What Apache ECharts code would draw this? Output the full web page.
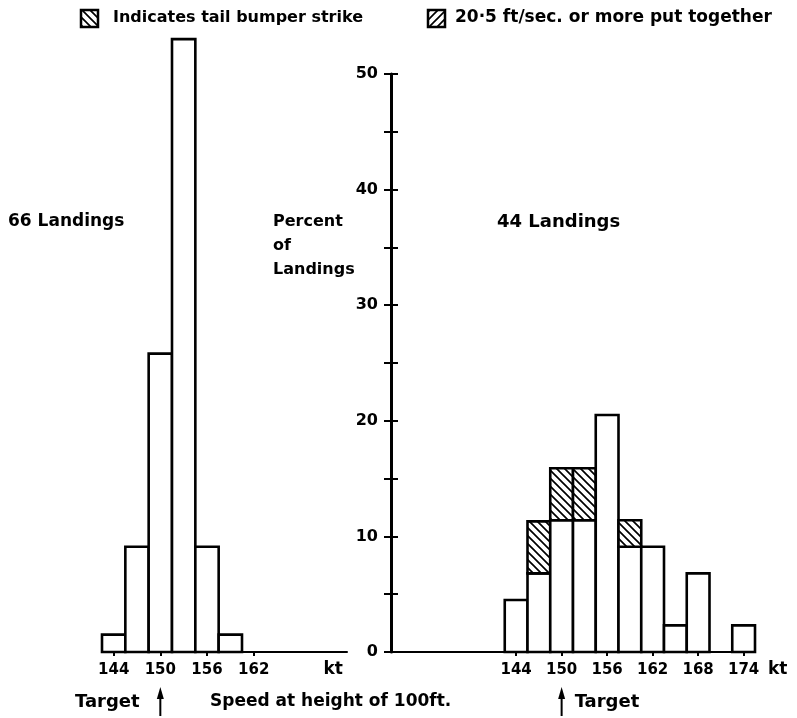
<!DOCTYPE html>
<html>
<head>
<meta charset="utf-8">
<script src="https://cdn.jsdelivr.net/npm/echarts@6/dist/echarts.min.js"></script>
<style>
  html, body { margin: 0; padding: 0; background: #fff; }
  #chart { width: 797px; height: 718px; }
</style>
</head>
<body>
<div id="chart"></div>
<script>
// Landing speed at 100 ft: percent of landings in each 3-kt band.
const binWidth = 3;

// First batch (66 landings)
const leftBins = [144, 147, 150, 153, 156, 159];
const leftPercent = [1.5, 9.1, 25.8, 53.0, 9.1, 1.5];

// Second batch (44 landings); tail-bumper strikes stacked on top
const rightBins = [144, 147, 150, 153, 156, 159, 162, 165, 168, 171, 174];
const rightPlain = [4.5, 6.8, 11.4, 11.4, 20.5, 9.1, 9.1, 2.3, 6.8, 0, 2.3];
const rightTailStrike = [0, 4.5, 4.5, 4.5, 0, 2.3, 0, 0, 0, 0, 0];

// Tick labels
const leftSpeedTicks = [144, 150, 156, 162];
const rightSpeedTicks = [144, 150, 156, 162, 168, 174];
const percentTicks = [0, 10, 20, 30, 40, 50];
const targetSpeed = 150;

const FONT = '"DejaVu Sans", sans-serif';

// Diagonal hatch tiles for the shaded boxes
function hatchCanvas(dir) {
  const s = 8;
  const c = document.createElement('canvas');
  c.width = s; c.height = s;
  const g = c.getContext('2d');
  g.fillStyle = '#fff';
  g.fillRect(0, 0, s, s);
  g.strokeStyle = '#000';
  g.lineWidth = 1.7;
  g.beginPath();
  for (const k of [-s, 0, s]) {
    if (dir === 'back') {          // "\" lines
      g.moveTo(-s, -s + k); g.lineTo(2 * s, 2 * s + k);
    } else {                       // "/" lines
      g.moveTo(-s, 2 * s + k); g.lineTo(2 * s, -s + k);
    }
  }
  g.stroke();
  return c;
}
const backHatch = { type: 'pattern', image: hatchCanvas('back'), repeat: 'repeat' };
const fwdHatch = { type: 'pattern', image: hatchCanvas('fwd'), repeat: 'repeat' };

// [center, from, to, hatched]
const leftData = leftBins.map((b, i) => [b, 0, leftPercent[i], 0]);
const rightData = [];
rightBins.forEach((b, i) => {
  rightData.push([b, 0, rightPlain[i], 0]);
  rightData.push([b, rightPlain[i], rightPlain[i] + rightTailStrike[i], 1]);
});

function renderBin(params, api) {
  const c = api.value(0), lo = api.value(1), hi = api.value(2), hatched = api.value(3);
  if (hi <= lo) return null;
  const p0 = api.coord([c - binWidth / 2, hi]);
  const p1 = api.coord([c + binWidth / 2, lo]);
  return {
    type: 'rect',
    shape: { x: p0[0], y: p0[1], width: p1[0] - p0[0], height: p1[1] - p0[1] },
    style: { fill: hatched ? backHatch : '#fff', stroke: '#000', lineWidth: 2.6 }
  };
}

const labelStyle = { color: '#000', fontFamily: FONT, fontWeight: 'bold', fontSize: 15 };

function speedAxis(gridIndex, min, max, ticks, nameGap, nameAlign) {
  return {
    type: 'value', gridIndex, min, max,
    axisLine: { show: true, lineStyle: { color: '#000', width: 2 } },
    axisTick: { show: true, customValues: ticks, length: 4, lineStyle: { color: '#000', width: 2 } },
    axisLabel: Object.assign({ customValues: ticks, margin: 11 }, labelStyle),
    splitLine: { show: false },
    name: 'kt', nameLocation: 'end', nameGap,
    nameTextStyle: { color: '#000', fontFamily: FONT, fontWeight: 'bold', fontSize: 17,
      align: nameAlign, verticalAlign: 'top', padding: [9, 0, 0, 0] }
  };
}

const chart = echarts.init(document.getElementById('chart'), null, { renderer: 'canvas' });

const option = {
  backgroundColor: '#fff',
  animation: false,
  grid: [
    { left: 102, right: 450, top: 16, bottom: 66 },
    { left: 391, right: 42, top: 74, bottom: 66 }
  ],
  xAxis: [
    speedAxis(0, 142.5, 174, leftSpeedTicks, -4, 'right'),
    speedAxis(1, 127.5, 175.5, rightSpeedTicks, 13, 'left')
  ],
  yAxis: [
    { type: 'value', gridIndex: 0, min: 0, max: 55, show: false },
    {
      type: 'value', gridIndex: 1, min: 0, max: 50, interval: 5, position: 'left',
      axisLine: { show: true, lineStyle: { color: '#000', width: 3 } },
      axisTick: { show: true, length: 7, lineStyle: { color: '#000', width: 2 } },
      axisLabel: Object.assign({ customValues: percentTicks, margin: 13 }, labelStyle, { fontSize: 16 }),
      splitLine: { show: false }
    },
    {
      type: 'value', gridIndex: 1, min: 0, max: 50, interval: 5, position: 'left', offset: 0,
      axisLine: { show: false },
      axisTick: { show: true, inside: true, length: 7, lineStyle: { color: '#000', width: 2 } },
      axisLabel: { show: false },
      splitLine: { show: false }
    }
  ],
  series: [
    { type: 'custom', xAxisIndex: 0, yAxisIndex: 0, renderItem: renderBin, data: leftData, clip: false, z: 3 },
    { type: 'custom', xAxisIndex: 1, yAxisIndex: 1, renderItem: renderBin, data: rightData, clip: false, z: 3 }
  ]
};
chart.setOption(option);

// Annotations: legend boxes, titles, target arrows
const textStyle = (s, size) => ({ text: s, fill: '#000', font: `bold ${size}px ${FONT}`, verticalAlign: 'middle' });
const xTargetLeft = chart.convertToPixel({ xAxisIndex: 0 }, targetSpeed);
const xTargetRight = chart.convertToPixel({ xAxisIndex: 1 }, targetSpeed);

function arrow(x) {
  return {
    type: 'group', children: [
      { type: 'line', shape: { x1: x, y1: 716, x2: x, y2: 694 }, style: { stroke: '#000', lineWidth: 2 } },
      { type: 'polygon', shape: { points: [[x, 687], [x - 3.5, 699], [x + 3.5, 699]] }, style: { fill: '#000' } }
    ]
  };
}

chart.setOption({
  graphic: [
    { type: 'rect', shape: { x: 81, y: 10, width: 17, height: 17 }, style: { fill: backHatch, stroke: '#000', lineWidth: 2.5 } },
    { type: 'text', x: 113, y: 18, style: textStyle('Indicates tail bumper strike', 16) },
    { type: 'rect', shape: { x: 428, y: 10, width: 17, height: 17 }, style: { fill: fwdHatch, stroke: '#000', lineWidth: 2.5 } },
    { type: 'text', x: 455, y: 18, style: textStyle('20·5 ft/sec. or more put together', 17) },
    { type: 'text', x: 8, y: 222, style: textStyle('66 Landings', 17) },
    { type: 'text', x: 273, y: 246, style: Object.assign(textStyle('Percent\nof\nLandings', 16), { lineHeight: 24 }) },
    { type: 'text', x: 497, y: 222, style: textStyle('44 Landings', 18) },
    { type: 'text', x: 75, y: 702, style: textStyle('Target', 18) },
    { type: 'text', x: 210, y: 702, style: textStyle('Speed at height of 100ft.', 17) },
    { type: 'text', x: xTargetRight + 13, y: 702, style: textStyle('Target', 18) },
    arrow(xTargetLeft),
    arrow(xTargetRight)
  ]
});
</script>
</body>
</html>
